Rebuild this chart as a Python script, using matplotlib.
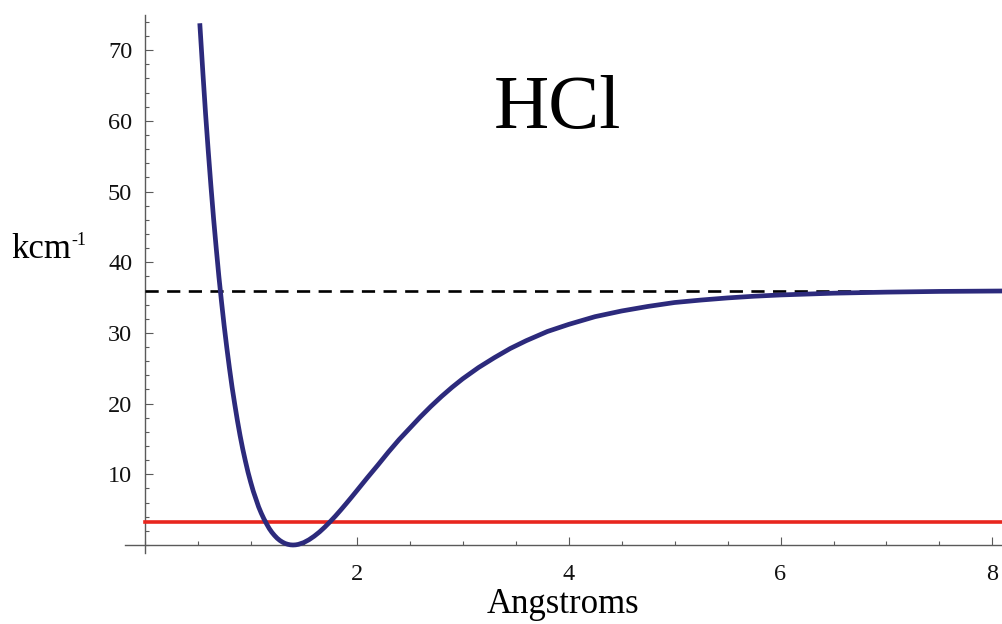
import matplotlib
matplotlib.use("Agg")
import matplotlib.pyplot as plt
from matplotlib.ticker import FixedLocator, MultipleLocator

# Potential energy curve of HCl (separation in Angstroms, energy in kcm^-1)
r_angstrom = [0.52, 0.55, 0.575, 0.60, 0.625, 0.65, 0.675, 0.70, 0.725, 0.75,
              0.775, 0.80, 0.825, 0.85, 0.875, 0.90, 0.925, 0.95, 0.975, 1.00,
              1.025, 1.05, 1.075, 1.10, 1.125, 1.15, 1.175, 1.20, 1.225, 1.25,
              1.275, 1.30, 1.325, 1.35, 1.375, 1.40, 1.425, 1.45, 1.50, 1.55,
              1.60, 1.65, 1.70, 1.75, 1.80, 1.85, 1.90, 1.95, 2.00, 2.10,
              2.20, 2.30, 2.40, 2.50, 2.60, 2.70, 2.80, 2.90, 3.00, 3.15,
              3.30, 3.45, 3.60, 3.80, 4.00, 4.25, 4.50, 4.75, 5.00, 5.25,
              5.50, 5.75, 6.00, 6.50, 7.00, 7.50, 8.10]
energy_kcm = [73.8, 66.6, 60.9, 55.7, 50.8, 46.2, 42.0, 38.0, 34.4, 31.0,
              27.9, 25.0, 22.3, 19.9, 17.6, 15.5, 13.6, 11.9, 10.3, 8.9,
              7.6, 6.5, 5.4, 4.5, 3.7, 3.0, 2.34, 1.8, 1.35, 0.96,
              0.65, 0.41, 0.22, 0.10, 0.024, 0.0, 0.023, 0.09, 0.34, 0.74,
              1.25, 1.85, 2.54, 3.30, 4.10, 4.95, 5.83, 6.73, 7.65, 9.50,
              11.3, 13.15, 14.9, 16.5, 18.1, 19.6, 21.0, 22.3, 23.5, 25.1,
              26.5, 27.8, 28.9, 30.2, 31.2, 32.3, 33.1, 33.75, 34.3, 34.65,
              34.95, 35.19, 35.37, 35.62, 35.77, 35.87, 35.93]

dissociation_level = 36.0
zero_point_level = 3.2

x_ticks = [2, 4, 6, 8]
y_ticks = [10, 20, 30, 40, 50, 60, 70]

serif = ["Liberation Serif", "DejaVu Serif"]

fig = plt.figure(figsize=(10.02, 6.24), dpi=100)
ax = fig.add_axes([0.1243, 0.1130, 0.8757, 0.8633])
ax.set_xlim(-0.19, 8.09)
ax.set_ylim(-1.2, 75)

axis_col = "#5a5a5a"
for side in ("top", "right"):
    ax.spines[side].set_visible(False)
ax.spines["left"].set_position(("data", 0))
ax.spines["bottom"].set_position(("data", 0))
for side in ("left", "bottom"):
    ax.spines[side].set_color(axis_col)
    ax.spines[side].set_linewidth(1.0)

ax.xaxis.set_major_locator(FixedLocator(x_ticks))
ax.xaxis.set_minor_locator(MultipleLocator(0.5))
ax.yaxis.set_major_locator(FixedLocator(y_ticks))
ax.yaxis.set_minor_locator(MultipleLocator(2))
ax.tick_params(which="both", direction="in", color=axis_col, width=0.8)
ax.tick_params(which="major", length=6)
ax.tick_params(which="minor", length=3)
ax.tick_params(axis="x", which="major", pad=14)
ax.tick_params(axis="y", which="major", pad=9)
for lab in ax.get_xticklabels() + ax.get_yticklabels():
    lab.set_fontfamily(serif)
    lab.set_fontsize(17.5)
    lab.set_color("#111111")

# reference levels
ax.plot([0, 8.09], [dissociation_level] * 2, color="black", lw=1.9,
        dashes=(5, 3.2), zorder=3)
ax.plot([0, 8.09], [zero_point_level] * 2, color="#e8261e", lw=2.6, zorder=3)

# potential curve
ax.plot(r_angstrom, energy_kcm, color="#2c2a7c", lw=3.4,
        solid_joinstyle="round", solid_capstyle="butt", zorder=4)

fig.text(557, 624 - 128, "HCl", fontfamily=serif, fontsize=55,
         ha="center", va="baseline", transform=None)
fig.text(563, 624 - 613, "Angstroms", fontfamily=serif, fontsize=25,
         ha="center", va="baseline", transform=None)
fig.text(11, 624 - 258, "kcm", fontfamily=serif, fontsize=25,
         ha="left", va="baseline", transform=None)
fig.text(71, 624 - 245, "-1", fontfamily=serif, fontsize=13,
         ha="left", va="baseline", transform=None)

fig.savefig("out.png", dpi=100)
